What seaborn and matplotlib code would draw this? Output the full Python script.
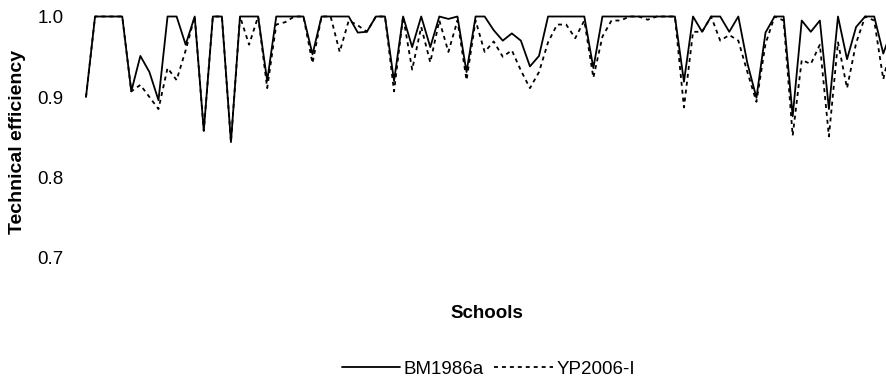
import matplotlib
matplotlib.use("Agg")
import matplotlib.pyplot as plt
from matplotlib.lines import Line2D
import numpy as np
import pandas as pd
import seaborn as sns

schools = list(range(1, 91))
bm1986a = [0.900, 1.0, 1.0, 1.0, 1.0, 0.907, 0.951, 0.931, 0.896, 1.0,
           1.0, 0.965, 1.0, 0.858, 1.0, 1.0, 0.844, 1.0, 1.0, 1.0,
           0.920, 1.0, 1.0, 1.0, 1.0, 0.953, 1.0, 1.0, 1.0, 1.0,
           0.980, 0.981, 1.0, 1.0, 0.920, 1.0, 0.962, 1.0, 0.962, 1.0,
           0.997, 1.0, 0.931, 1.0, 1.0, 0.983, 0.970, 0.979, 0.970, 0.938,
           0.951, 1.0, 1.0, 1.0, 1.0, 1.0, 0.936, 1.0, 1.0, 1.0,
           1.0, 1.0, 1.0, 1.0, 1.0, 1.0, 0.919, 1.0, 0.981, 1.0,
           1.0, 0.981, 1.0, 0.942, 0.899, 0.980, 1.0, 1.0, 0.876, 0.995,
           0.981, 0.995, 0.885, 1.0, 0.947, 0.987, 1.0, 1.0, 0.954, 0.985]
yp2006 = [0.900, 1.0, 1.0, 1.0, 1.0, 0.907, 0.915, 0.900, 0.885, 0.936,
          0.921, 0.958, 1.0, 0.858, 1.0, 1.0, 0.844, 1.0, 0.965, 1.0,
          0.911, 0.990, 0.993, 1.0, 1.0, 0.942, 1.0, 1.0, 0.956, 0.995,
          0.989, 0.981, 1.0, 1.0, 0.907, 1.0, 0.934, 0.987, 0.943, 0.995,
          0.956, 0.995, 0.921, 0.995, 0.956, 0.969, 0.950, 0.958, 0.933, 0.911,
          0.931, 0.968, 0.990, 0.990, 0.973, 0.995, 0.924, 0.975, 0.995, 0.995,
          1.0, 1.0, 0.996, 1.0, 1.0, 1.0, 0.887, 0.981, 0.981, 1.0,
          0.970, 0.977, 0.970, 0.931, 0.894, 0.966, 1.0, 0.995, 0.852, 0.946,
          0.941, 0.965, 0.851, 0.968, 0.911, 0.967, 1.0, 0.995, 0.922, 0.970]
models = ["BM1986a", "YP2006-I"]
yticks = [0.7, 0.8, 0.9, 1.0]
ytick_labels = ["0.7", "0.8", "0.9", "1.0"]

df = pd.DataFrame({
    "School": schools * 2,
    "Efficiency": bm1986a + yp2006,
    "Model": [models[0]] * len(schools) + [models[1]] * len(schools),
})

sns.set_theme(style="white")
plt.rcParams["font.family"] = ["Liberation Sans", "DejaVu Sans"]
plt.rcParams["text.color"] = "black"
plt.rcParams["legend.labelcolor"] = "black"

W, H = 887, 384
fig = plt.figure(figsize=(W / 100, H / 100), dpi=100)
ax_left, ax_right, ax_top, ax_bot = 86, 887, 16.5, 258
ax = fig.add_axes([ax_left / W, 1 - ax_bot / H, (ax_right - ax_left) / W, (ax_bot - ax_top) / H])

dash = (2.2, 2.2)
lw = 1.3
sns.lineplot(data=df, x="School", y="Efficiency", style="Model",
             style_order=models, dashes={models[0]: "", models[1]: dash},
             color="black", linewidth=lw, ax=ax, legend=False)
for l in ax.lines:
    l.set_clip_on(False)

step = 9.06
ax.set_xlim(1, 1 + (ax_right - ax_left) / step)
ax.set_ylim(0.7, 1.0)
ax.set_xticks([])
ax.set_yticks(yticks)
ax.set_yticklabels(ytick_labels)
ax.tick_params(axis="y", length=0, pad=16, labelsize=13.5, colors="black")
for s in ax.spines.values():
    s.set_visible(False)
ax.set_xlabel("")
ax.set_ylabel("")

fig.text(17.5 / W, 1 - 142 / H, "Technical efficiency", rotation=90,
         ha="center", va="center", fontsize=14, fontweight="bold", color="black")
fig.text(487 / W, 1 - 314 / H, "Schools", ha="center", va="center",
         fontsize=13.5, fontweight="bold", color="black")

handles = [Line2D([], [], color="black", lw=lw),
           Line2D([], [], color="black", lw=lw, linestyle=(0, dash))]
fig.legend(handles, models, loc="center", bbox_to_anchor=(488.5 / W, 1 - 369 / H),
           ncol=2, frameon=False, fontsize=13.5, handlelength=3.1,
           handletextpad=0.2, columnspacing=0.55, labelcolor="black")

fig.savefig("out.png", dpi=100)
